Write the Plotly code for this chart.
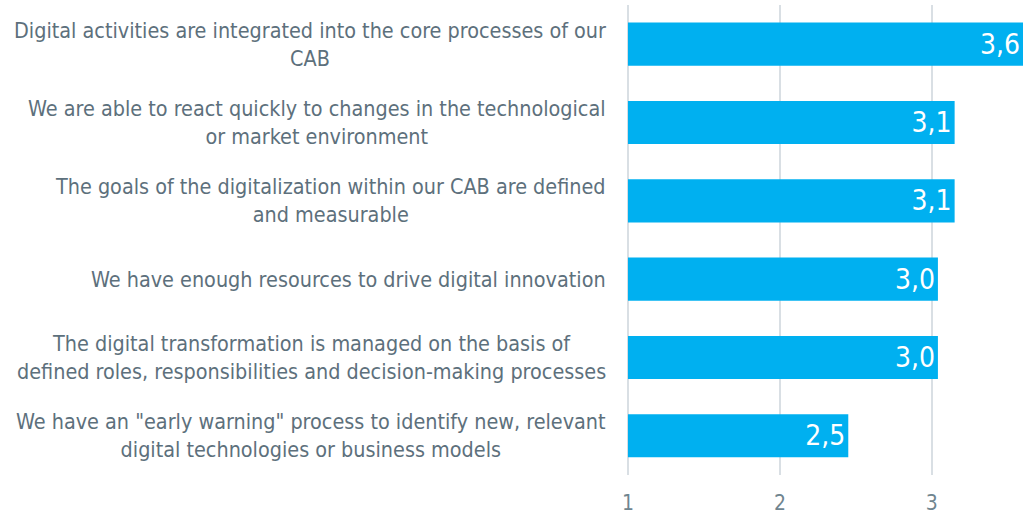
import plotly.graph_objects as go

statements = [
    "Digital activities are integrated into the core processes of our<br>CAB",
    "We are able to react quickly to changes in the technological<br>or market environment",
    "The goals of the digitalization within our CAB are defined<br>and measurable",
    "We have enough resources to drive digital innovation",
    "The digital transformation is managed on the basis of<br>defined roles, responsibilities and decision-making processes",
    "We have an \"early warning\" process to identify new, relevant<br>digital technologies or business models",
]
scores = [3.6, 3.15, 3.15, 3.04, 3.04, 2.45]
score_labels = ["3,6", "3,1", "3,1", "3,0", "3,0", "2,5"]
scale_min = 1

font_family = "DejaVu Sans Condensed, sans-serif"
text_grey = "#5d707c"

fig = go.Figure(go.Bar(
    x=[s - scale_min for s in scores], y=statements, orientation="h", base=scale_min,
    marker=dict(color="#00b0f0", line=dict(width=0)),
    text=score_labels, textposition="inside", insidetextanchor="end",
    textfont=dict(color="white", size=28, family=font_family),
    hoverinfo="skip",
))

for s in statements:
    fig.add_annotation(x=0, xref="paper", y=s, yref="y", text=s,
                       xanchor="right", xshift=-18, align="center", showarrow=False,
                       font=dict(size=21.4, color=text_grey, family=font_family))

fig.update_layout(
    width=1023, height=515,
    margin=dict(l=626, r=0, t=5, b=40),
    plot_bgcolor="white", paper_bgcolor="white",
    bargap=0.45, showlegend=False,
    font=dict(family=font_family, color=text_grey),
)
fig.update_xaxes(range=[0.987, 3.6], tickvals=[1, 2, 3], showgrid=True, gridcolor="#d9dfe4",
                 gridwidth=1.5, zeroline=False, showline=False, ticks="", automargin=False,
                 tickfont=dict(size=21, color="#70858f"), ticklabelstandoff=13)
fig.update_yaxes(autorange="reversed", showticklabels=False, showgrid=False, zeroline=False,
                 automargin=False)

fig.write_html("out.html", config={"displayModeBar": False},
               post_script="document.body.style.margin='0';")
